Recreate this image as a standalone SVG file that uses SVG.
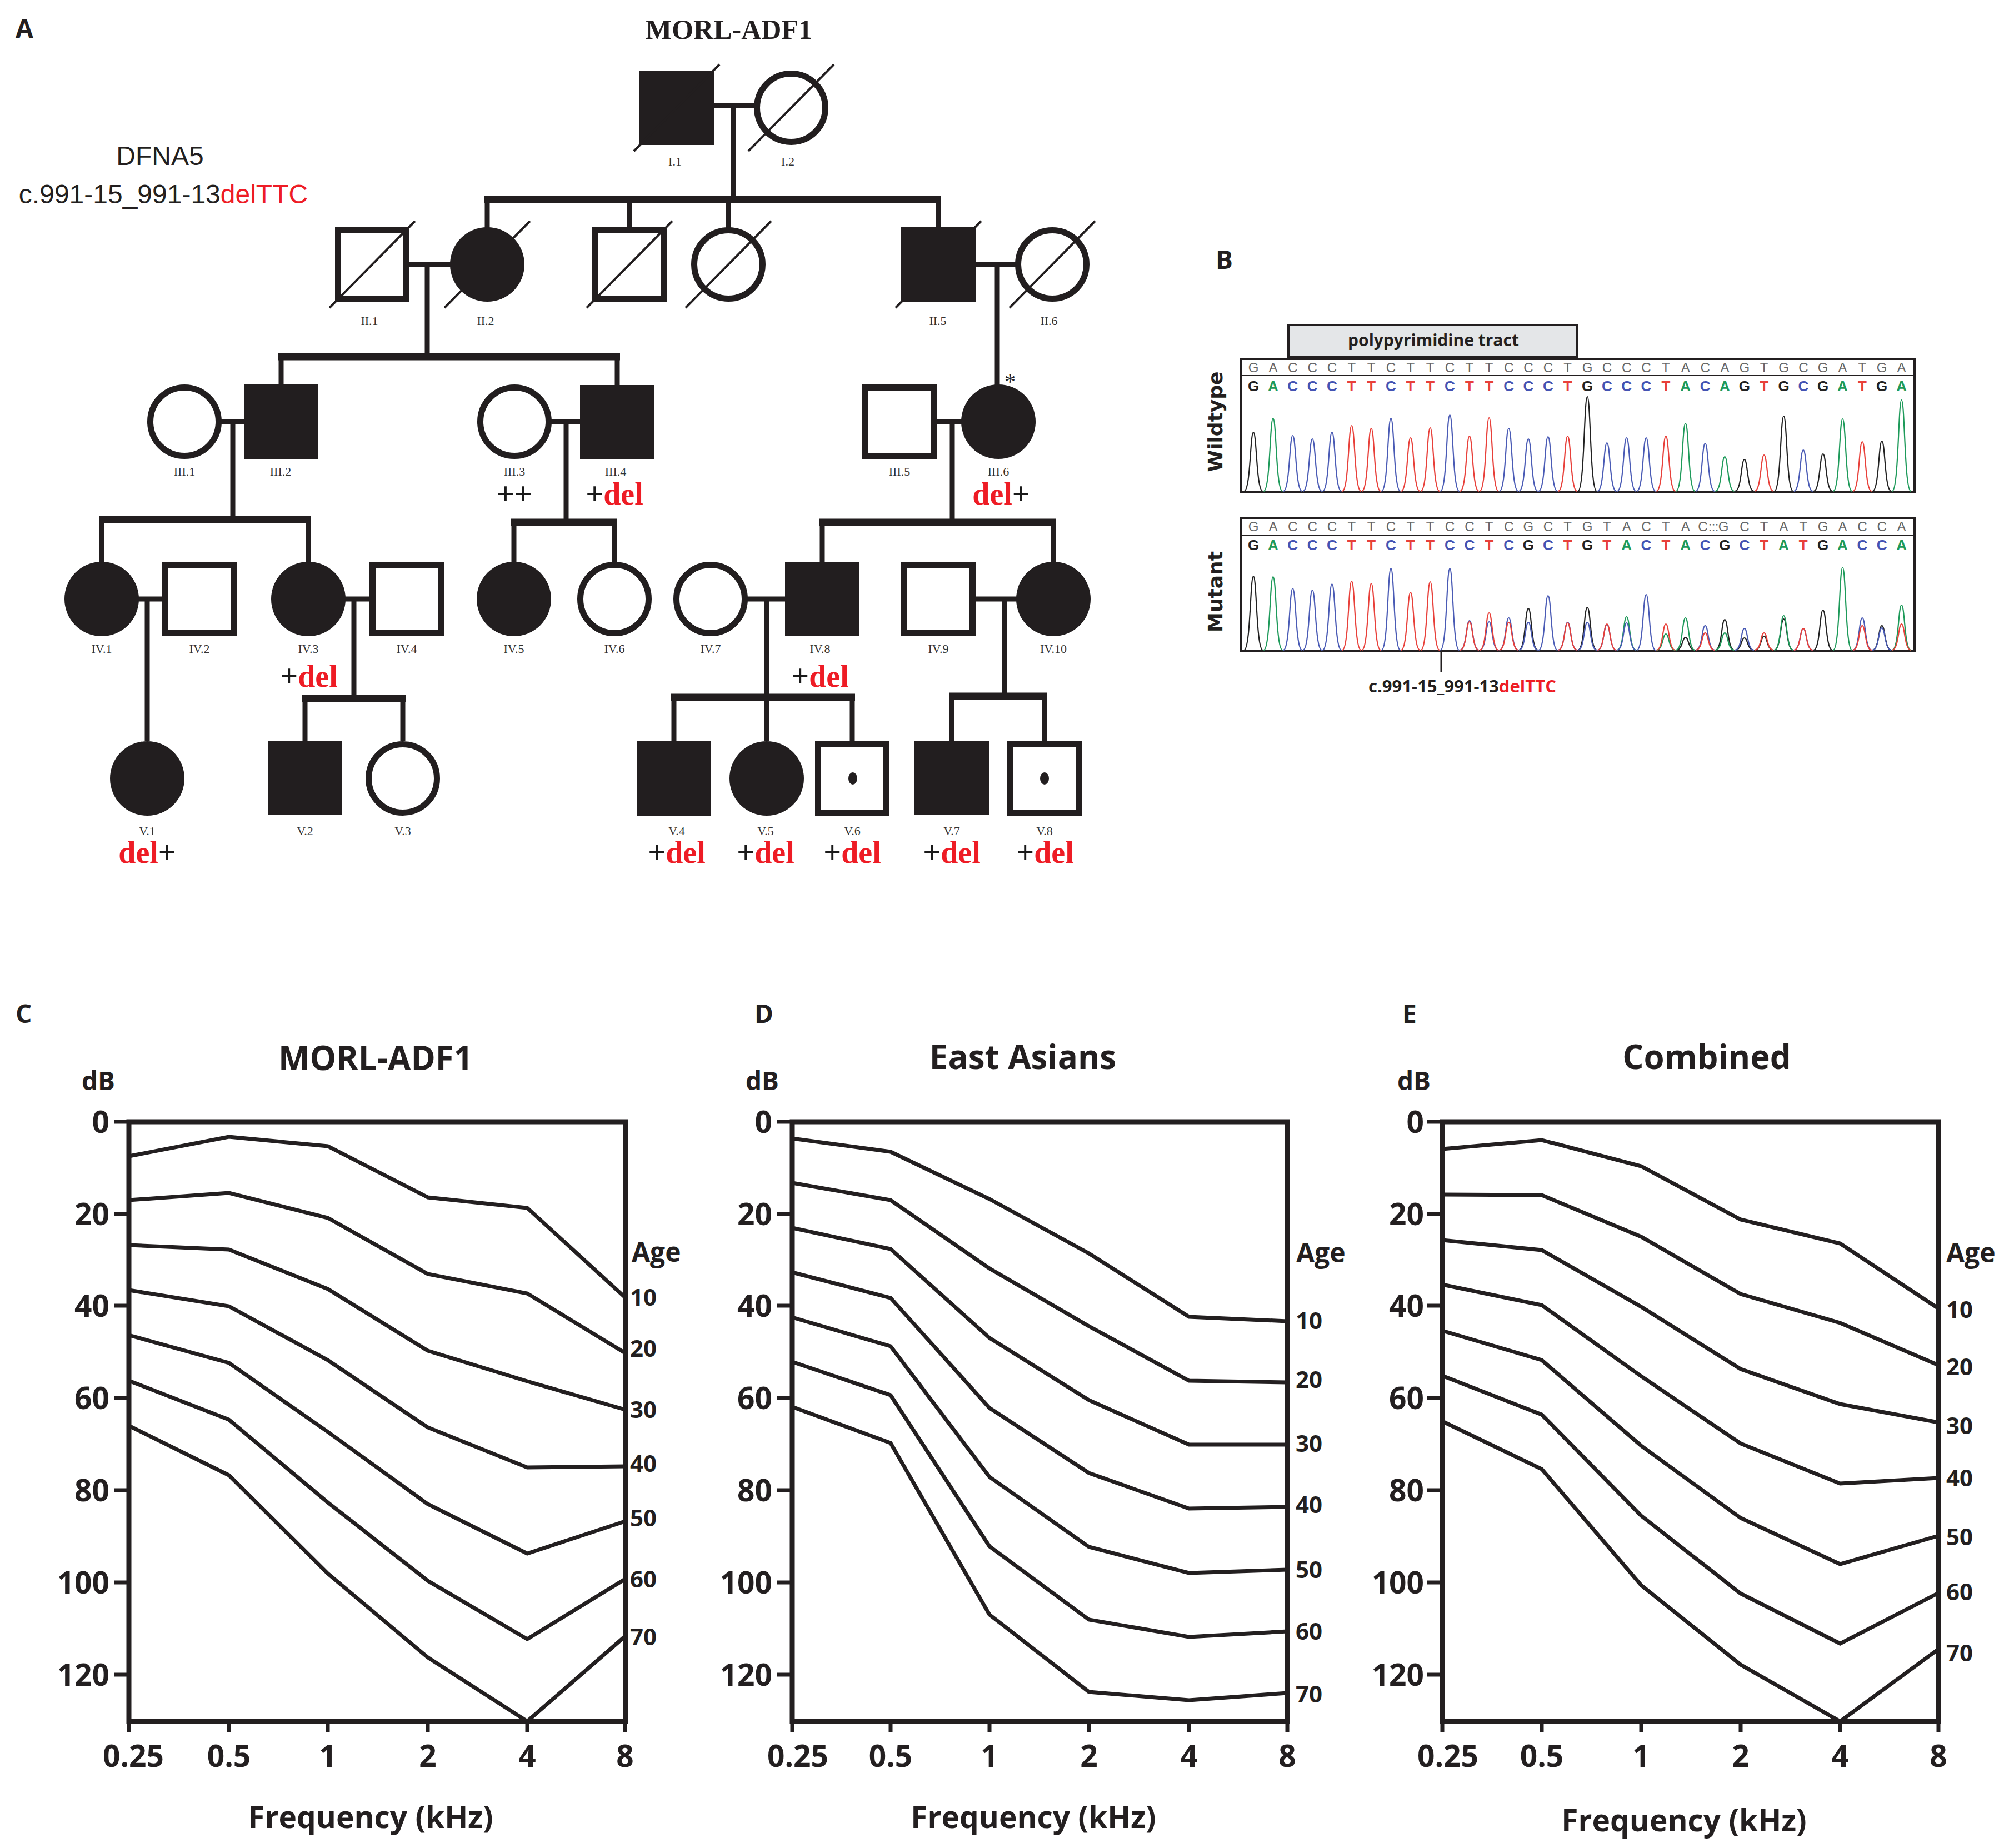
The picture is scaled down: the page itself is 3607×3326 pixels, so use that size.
<svg xmlns="http://www.w3.org/2000/svg" width="3607" height="3326" viewBox="0 0 3607 3326">
<style>
.bg{fill:#fff}
.lbl{font-family:"Liberation Serif",serif;font-size:22px;fill:#333;text-anchor:middle}
.gt{font-family:"Liberation Serif",serif;font-weight:bold;font-size:56px;fill:#1a1a1a;text-anchor:middle}
.red{fill:#ee1c25}
.fil{fill:#221e1f}
.opn{fill:#fff;stroke:#221e1f;stroke-width:11}
.sl{stroke:#221e1f;stroke-width:4}
.con line{stroke:#221e1f;stroke-width:9}
.con line.sib{stroke-width:13}
.pl{font-family:"Open Sans","Liberation Sans",sans-serif;font-weight:bold;font-size:46px;fill:#231f20}
.hdr{font-family:"Liberation Sans",sans-serif;font-size:48px;fill:#231f20;text-anchor:middle}
.ax{font-family:"Open Sans","Liberation Sans",sans-serif;font-weight:bold;fill:#231f20}
.yl{font-size:55px;text-anchor:end}
.xl{font-size:55px;text-anchor:middle}
.ttl{font-size:60px;text-anchor:middle}
.ag{font-size:42px}
.db{font-size:46px;text-anchor:middle}
.box{fill:none;stroke:#231f20;stroke-width:9}
.tk{stroke:#231f20;stroke-width:7}
.crv{fill:none;stroke:#231f20;stroke-width:7;stroke-linejoin:miter}
.seq1{font-family:"Liberation Sans",sans-serif;font-size:24px;fill:#666;text-anchor:middle}
.seq2{font-family:"Liberation Sans",sans-serif;font-weight:bold;font-size:26px;text-anchor:middle}
.cG{fill:#222}.cA{fill:#1e9a5a}.cC{fill:#4453b3}.cT{fill:#e8403a}
.tr{fill:none;stroke-width:2.2}
.tG{stroke:#222}.tA{stroke:#1e9a5a}.tC{stroke:#4a5bb5}.tT{stroke:#e8403a}
.cf{fill:#fff;stroke:#231f20;stroke-width:4}
.rot{font-family:"DejaVu Sans",sans-serif;font-weight:bold;font-size:36px;fill:#231f20;text-anchor:middle}
</style>
<rect class="bg" x="0" y="0" width="3607" height="3326"/>

<!-- Panel A -->
<text class="pl" x="28" y="68">A</text>
<text x="1312" y="70" font-family="Liberation Serif,serif" font-weight="bold" font-size="50" fill="#231f20" text-anchor="middle">MORL-ADF1</text>
<text class="hdr" x="288" y="297">DFNA5</text>
<text class="hdr" x="294" y="366">c.991-15_991-13<tspan class="red">delTTC</tspan></text>

<g id="connectors" class="con">
<line x1="1285" y1="190" x2="1360" y2="190"/>
<line x1="1320" y1="190" x2="1320" y2="359"/>
<line class="sib" x1="872" y1="359" x2="1694" y2="359"/>
<line x1="877" y1="359" x2="877" y2="410"/>
<line x1="1133" y1="359" x2="1133" y2="410"/>
<line x1="1311" y1="359" x2="1311" y2="410"/>
<line x1="1689" y1="359" x2="1689" y2="410"/>
<line x1="731" y1="476" x2="812" y2="476"/>
<line x1="769" y1="476" x2="769" y2="642"/>
<line class="sib" x1="501" y1="642" x2="1116" y2="642"/>
<line x1="506" y1="642" x2="506" y2="693"/>
<line x1="1111" y1="642" x2="1111" y2="693"/>
<line x1="1754" y1="476" x2="1832" y2="476"/>
<line x1="1795" y1="476" x2="1795" y2="693"/>
<line x1="393" y1="759" x2="442" y2="759"/>
<line x1="419" y1="759" x2="419" y2="935"/>
<line class="sib" x1="178" y1="935" x2="560" y2="935"/>
<line x1="183" y1="935" x2="183" y2="1012"/>
<line x1="555" y1="935" x2="555" y2="1012"/>
<line x1="986" y1="759" x2="1046" y2="759"/>
<line x1="1019" y1="759" x2="1019" y2="940"/>
<line class="sib" x1="920" y1="940" x2="1111" y2="940"/>
<line x1="925" y1="940" x2="925" y2="1012"/>
<line x1="1106" y1="940" x2="1106" y2="1012"/>
<line x1="1678" y1="759" x2="1732" y2="759"/>
<line x1="1714" y1="759" x2="1714" y2="940"/>
<line class="sib" x1="1475" y1="940" x2="1901" y2="940"/>
<line x1="1480" y1="940" x2="1480" y2="1012"/>
<line x1="1896" y1="940" x2="1896" y2="1012"/>
<line x1="248" y1="1078" x2="300" y2="1078"/>
<line x1="265" y1="1078" x2="265" y2="1334"/>
<line x1="620" y1="1078" x2="672" y2="1078"/>
<line x1="637" y1="1078" x2="637" y2="1257"/>
<line class="sib" x1="544" y1="1257" x2="730" y2="1257"/>
<line x1="549" y1="1257" x2="549" y2="1334"/>
<line x1="725" y1="1257" x2="725" y2="1334"/>
<line x1="1342" y1="1078" x2="1414" y2="1078"/>
<line x1="1380" y1="1078" x2="1380" y2="1334"/>
<line class="sib" x1="1208" y1="1255" x2="1539" y2="1255"/>
<line x1="1213" y1="1255" x2="1213" y2="1334"/>
<line x1="1534" y1="1255" x2="1534" y2="1334"/>
<line x1="1750" y1="1078" x2="1834" y2="1078"/>
<line x1="1808" y1="1078" x2="1808" y2="1253"/>
<line class="sib" x1="1708" y1="1253" x2="1885" y2="1253"/>
<line x1="1713" y1="1253" x2="1713" y2="1334"/>
<line x1="1880" y1="1253" x2="1880" y2="1334"/>
</g>

<g id="I.1"><rect class="fil" x="1151" y="127" width="134" height="134"/><line class="sl" x1="1141" y1="272" x2="1295" y2="116"/><text class="lbl" x="1215" y="298">I.1</text></g>
<g id="I.2"><circle class="opn" cx="1424" cy="194" r="61.5"/><line class="sl" x1="1347" y1="272" x2="1501" y2="116"/><text class="lbl" x="1418" y="298">I.2</text></g>
<g id="II.1"><rect class="opn" x="608.5" y="414.5" width="123" height="123"/><line class="sl" x1="593" y1="554" x2="747" y2="398"/><text class="lbl" x="665" y="585">II.1</text></g>
<g id="II.2"><circle class="fil" cx="877" cy="476" r="67"/><line class="sl" x1="800" y1="554" x2="954" y2="398"/><text class="lbl" x="874" y="585">II.2</text></g>
<g id="II.3"><rect class="opn" x="1071.5" y="414.5" width="123" height="123"/><line class="sl" x1="1056" y1="554" x2="1210" y2="398"/></g>
<g id="II.4"><circle class="opn" cx="1311" cy="476" r="61.5"/><line class="sl" x1="1234" y1="554" x2="1388" y2="398"/></g>
<g id="II.5"><rect class="fil" x="1622" y="409" width="134" height="134"/><line class="sl" x1="1612" y1="554" x2="1766" y2="398"/><text class="lbl" x="1688" y="585">II.5</text></g>
<g id="II.6"><circle class="opn" cx="1894" cy="476" r="61.5"/><line class="sl" x1="1817" y1="554" x2="1971" y2="398"/><text class="lbl" x="1888" y="585">II.6</text></g>

<g id="III.1"><circle class="opn" cx="332" cy="759" r="61.5"/><text class="lbl" x="332" y="856">III.1</text></g>
<g id="III.2"><rect class="fil" x="439" y="692" width="134" height="134"/><text class="lbl" x="505" y="856">III.2</text></g>
<g id="III.3"><circle class="opn" cx="926" cy="759" r="61.5"/><text class="lbl" x="926" y="856">III.3</text><text class="gt" x="926" y="908">++</text></g>
<g id="III.4"><rect class="fil" x="1044" y="693" width="134" height="134"/><text class="lbl" x="1108" y="856">III.4</text><text class="gt" x="1106" y="908">+<tspan class="red">del</tspan></text></g>
<g id="III.5"><rect class="opn" x="1557.5" y="697.5" width="123" height="123"/><text class="lbl" x="1619" y="856">III.5</text></g>
<g id="III.6"><circle class="fil" cx="1797" cy="759" r="67"/><text x="1818" y="700" font-family="Liberation Serif,serif" font-size="40" fill="#231f20" text-anchor="middle">*</text><text class="lbl" x="1797" y="856">III.6</text><text class="gt" x="1802" y="908"><tspan class="red">del</tspan>+</text></g>

<g id="IV.1"><circle class="fil" cx="183" cy="1078" r="67"/><text class="lbl" x="183" y="1175">IV.1</text></g>
<g id="IV.2"><rect class="opn" x="297.5" y="1016.5" width="123" height="123"/><text class="lbl" x="359" y="1175">IV.2</text></g>
<g id="IV.3"><circle class="fil" cx="555" cy="1078" r="67"/><text class="lbl" x="555" y="1175">IV.3</text><text class="gt" x="556" y="1236">+<tspan class="red">del</tspan></text></g>
<g id="IV.4"><rect class="opn" x="670.5" y="1016.5" width="123" height="123"/><text class="lbl" x="732" y="1175">IV.4</text></g>
<g id="IV.5"><circle class="fil" cx="925" cy="1078" r="67"/><text class="lbl" x="925" y="1175">IV.5</text></g>
<g id="IV.6"><circle class="opn" cx="1106" cy="1078" r="61.5"/><text class="lbl" x="1106" y="1175">IV.6</text></g>
<g id="IV.7"><circle class="opn" cx="1279" cy="1078" r="61.5"/><text class="lbl" x="1279" y="1175">IV.7</text></g>
<g id="IV.8"><rect class="fil" x="1413" y="1011" width="134" height="134"/><text class="lbl" x="1476" y="1175">IV.8</text><text class="gt" x="1476" y="1236">+<tspan class="red">del</tspan></text></g>
<g id="IV.9"><rect class="opn" x="1627.5" y="1016.5" width="123" height="123"/><text class="lbl" x="1689" y="1175">IV.9</text></g>
<g id="IV.10"><circle class="fil" cx="1896" cy="1078" r="67"/><text class="lbl" x="1896" y="1175">IV.10</text></g>

<g id="V.1"><circle class="fil" cx="265" cy="1401" r="67"/><text class="lbl" x="265" y="1503">V.1</text><text class="gt" x="265" y="1553"><tspan class="red">del</tspan>+</text></g>
<g id="V.2"><rect class="fil" x="482" y="1333" width="134" height="134"/><text class="lbl" x="549" y="1503">V.2</text></g>
<g id="V.3"><circle class="opn" cx="725" cy="1401" r="61.5"/><text class="lbl" x="725" y="1503">V.3</text></g>
<g id="V.4"><rect class="fil" x="1146" y="1334" width="134" height="134"/><text class="lbl" x="1218" y="1503">V.4</text><text class="gt" x="1218" y="1553">+<tspan class="red">del</tspan></text></g>
<g id="V.5"><circle class="fil" cx="1380" cy="1401" r="67"/><text class="lbl" x="1378" y="1503">V.5</text><text class="gt" x="1378" y="1553">+<tspan class="red">del</tspan></text></g>
<g id="V.6"><rect class="opn" x="1472.5" y="1339.5" width="123" height="123"/><ellipse class="fil" cx="1535" cy="1401" rx="8" ry="11"/><text class="lbl" x="1534" y="1503">V.6</text><text class="gt" x="1534" y="1553">+<tspan class="red">del</tspan></text></g>
<g id="V.7"><rect class="fil" x="1646" y="1333" width="134" height="134"/><text class="lbl" x="1713" y="1503">V.7</text><text class="gt" x="1713" y="1553">+<tspan class="red">del</tspan></text></g>
<g id="V.8"><rect class="opn" x="1818.5" y="1339.5" width="123" height="123"/><ellipse class="fil" cx="1880" cy="1401" rx="8" ry="11"/><text class="lbl" x="1880" y="1503">V.8</text><text class="gt" x="1881" y="1553">+<tspan class="red">del</tspan></text></g>

<!-- Panel B -->
<g id="panelB">
<text class="pl" x="2188" y="484">B</text>
<rect x="2319" y="585" width="520" height="57" fill="#e4e6e8" stroke="#231f20" stroke-width="4"/>
<text class="ax" x="2580" y="623" font-size="30" text-anchor="middle">polypyrimidine tract</text>

<rect class="cf" x="2233" y="646" width="1213" height="240"/>
<line x1="2233" y1="676" x2="3446" y2="676" stroke="#231f20" stroke-width="2"/>
<text class="rot" transform="translate(2200,759) rotate(-90)">Wildtype</text>
<text class="seq1" y="670" x="2256 2291.4 2326.7 2362.1 2397.4 2432.8 2468.1 2503.5 2538.8 2574.2 2609.5 2644.9 2680.2 2715.6 2750.9 2786.3 2821.6 2857 2892.3 2927.7 2963 2998.4 3033.7 3069.1 3104.4 3139.8 3175.1 3210.5 3245.8 3281.2 3316.5 3351.9 3387.2 3422.6">GACCCTTCTTCTTCCCTGCCCTACAGTGCGATGA</text>
<text class="seq2" y="704" x="2256 2291.4 2326.7 2362.1 2397.4 2432.8 2468.1 2503.5 2538.8 2574.2 2609.5 2644.9 2680.2 2715.6 2750.9 2786.3 2821.6 2857 2892.3 2927.7 2963 2998.4 3033.7 3069.1 3104.4 3139.8 3175.1 3210.5 3245.8 3281.2 3316.5 3351.9 3387.2 3422.6"><tspan class="cG">G</tspan><tspan class="cA">A</tspan><tspan class="cC">CCC</tspan><tspan class="cT">TT</tspan><tspan class="cC">C</tspan><tspan class="cT">TT</tspan><tspan class="cC">C</tspan><tspan class="cT">TT</tspan><tspan class="cC">CCC</tspan><tspan class="cT">T</tspan><tspan class="cG">G</tspan><tspan class="cC">CCC</tspan><tspan class="cT">T</tspan><tspan class="cA">A</tspan><tspan class="cC">C</tspan><tspan class="cA">A</tspan><tspan class="cG">G</tspan><tspan class="cT">T</tspan><tspan class="cG">G</tspan><tspan class="cC">C</tspan><tspan class="cG">G</tspan><tspan class="cA">A</tspan><tspan class="cT">T</tspan><tspan class="cG">G</tspan><tspan class="cA">A</tspan></text>
<path class="tr tG" d="M2239,884c12,0 11,-106 17,-106c6,0 5,106 17,106M2840,884c12,0 11,-170 17,-170c6,0 5,170 17,170M3122.8,884c12,0 11,-57 17,-57c6,0 5,57 17,57M3193.5,884c12,0 11,-135 17,-135c6,0 5,135 17,135M3264.2,884c12,0 11,-67 17,-67c6,0 5,67 17,67M3370.2,884c12,0 11,-90 17,-90c6,0 5,90 17,90"/>
<path class="tr tA" d="M2274.4,884c12,0 11,-131 17,-131c6,0 5,131 17,131M3016.7,884c12,0 11,-122 17,-122c6,0 5,122 17,122M3087.4,884c12,0 11,-62 17,-62c6,0 5,62 17,62M3299.5,884c12,0 11,-130 17,-130c6,0 5,130 17,130M3405.6,884c12,0 11,-164 17,-164c6,0 5,164 17,164"/>
<path class="tr tC" d="M2309.7,884c12,0 11,-100 17,-100c6,0 5,100 17,100M2345.1,884c12,0 11,-94 17,-94c6,0 5,94 17,94M2380.4,884c12,0 11,-106 17,-106c6,0 5,106 17,106M2486.5,884c12,0 11,-131 17,-131c6,0 5,131 17,131M2592.5,884c12,0 11,-137 17,-137c6,0 5,137 17,137M2698.6,884c12,0 11,-113 17,-113c6,0 5,113 17,113M2733.9,884c12,0 11,-94 17,-94c6,0 5,94 17,94M2769.3,884c12,0 11,-98 17,-98c6,0 5,98 17,98M2875.3,884c12,0 11,-87 17,-87c6,0 5,87 17,87M2910.7,884c12,0 11,-96 17,-96c6,0 5,96 17,96M2946,884c12,0 11,-96 17,-96c6,0 5,96 17,96M3052.1,884c12,0 11,-86 17,-86c6,0 5,86 17,86M3228.8,884c12,0 11,-74 17,-74c6,0 5,74 17,74"/>
<path class="tr tT" d="M2415.8,884c12,0 11,-118 17,-118c6,0 5,118 17,118M2451.1,884c12,0 11,-113 17,-113c6,0 5,113 17,113M2521.8,884c12,0 11,-96 17,-96c6,0 5,96 17,96M2557.2,884c12,0 11,-114 17,-114c6,0 5,114 17,114M2627.9,884c12,0 11,-99 17,-99c6,0 5,99 17,99M2663.2,884c12,0 11,-132 17,-132c6,0 5,132 17,132M2804.6,884c12,0 11,-99 17,-99c6,0 5,99 17,99M2981.4,884c12,0 11,-99 17,-99c6,0 5,99 17,99M3158.1,884c12,0 11,-65 17,-65c6,0 5,65 17,65M3334.9,884c12,0 11,-89 17,-89c6,0 5,89 17,89"/>

<rect class="cf" x="2233" y="932" width="1213" height="240"/>
<line x1="2233" y1="963" x2="3446" y2="963" stroke="#231f20" stroke-width="2"/>
<text class="rot" transform="translate(2200,1065) rotate(-90)">Mutant</text>
<text class="seq1" y="956" x="2256 2291.4 2326.7 2362.1 2397.4 2432.8 2468.1 2503.5 2538.8 2574.2 2609.5 2644.9 2680.2 2715.6 2750.9 2786.3 2821.6 2857 2892.3 2927.7 2963 2998.4 3033.7 3065 3078 3084 3090 3102 3139.8 3175.1 3210.5 3245.8 3281.2 3316.5 3351.9 3387.2 3422.6">GACCCTTCTTCCTCGCTGTACTAC:::GCTATGACCA</text>
<text class="seq2" y="990" x="2256 2291.4 2326.7 2362.1 2397.4 2432.8 2468.1 2503.5 2538.8 2574.2 2609.5 2644.9 2680.2 2715.6 2750.9 2786.3 2821.6 2857 2892.3 2927.7 2963 2998.4 3033.7 3069.1 3104.4 3139.8 3175.1 3210.5 3245.8 3281.2 3316.5 3351.9 3387.2 3422.6"><tspan class="cG">G</tspan><tspan class="cA">A</tspan><tspan class="cC">CCC</tspan><tspan class="cT">TT</tspan><tspan class="cC">C</tspan><tspan class="cT">TT</tspan><tspan class="cC">CC</tspan><tspan class="cT">T</tspan><tspan class="cC">C</tspan><tspan class="cG">G</tspan><tspan class="cC">C</tspan><tspan class="cT">T</tspan><tspan class="cG">G</tspan><tspan class="cT">T</tspan><tspan class="cA">A</tspan><tspan class="cC">C</tspan><tspan class="cT">T</tspan><tspan class="cA">A</tspan><tspan class="cC">C</tspan><tspan class="cG">G</tspan><tspan class="cC">C</tspan><tspan class="cT">T</tspan><tspan class="cA">A</tspan><tspan class="cT">T</tspan><tspan class="cG">G</tspan><tspan class="cA">A</tspan><tspan class="cC">CC</tspan><tspan class="cA">A</tspan></text>
<path class="tr tG" d="M2239,1170c12,0 11,-133 17,-133c6,0 5,133 17,133M2733.9,1170c12,0 11,-75 17,-75c6,0 5,75 17,75M2840,1170c12,0 11,-77 17,-77c6,0 5,77 17,77M3016.7,1170c12,0 11,-23 17,-23c6,0 5,23 17,23M3087.4,1170c12,0 11,-55 17,-55c6,0 5,55 17,55M3122.8,1170c12,0 11,-22 17,-22c6,0 5,22 17,22M3158.1,1170c12,0 11,-25 17,-25c6,0 5,25 17,25M3193.5,1170c12,0 11,-56 17,-56c6,0 5,56 17,56M3264.2,1170c12,0 11,-72 17,-72c6,0 5,72 17,72M3370.2,1170c12,0 11,-44 17,-44c6,0 5,44 17,44"/>
<path class="tr tA" d="M2274.4,1170c12,0 11,-132 17,-132c6,0 5,132 17,132M2910.7,1170c12,0 11,-60 17,-60c6,0 5,60 17,60M2981.4,1170c12,0 11,-29 17,-29c6,0 5,29 17,29M3016.7,1170c12,0 11,-58 17,-58c6,0 5,58 17,58M3087.4,1170c12,0 11,-31 17,-31c6,0 5,31 17,31M3193.5,1170c12,0 11,-62 17,-62c6,0 5,62 17,62M3299.5,1170c12,0 11,-149 17,-149c6,0 5,149 17,149M3405.6,1170c12,0 11,-81 17,-81c6,0 5,81 17,81"/>
<path class="tr tC" d="M2309.7,1170c12,0 11,-111 17,-111c6,0 5,111 17,111M2345.1,1170c12,0 11,-108 17,-108c6,0 5,108 17,108M2380.4,1170c12,0 11,-119 17,-119c6,0 5,119 17,119M2486.5,1170c12,0 11,-147 17,-147c6,0 5,147 17,147M2592.5,1170c12,0 11,-147 17,-147c6,0 5,147 17,147M2627.9,1170c12,0 11,-53 17,-53c6,0 5,53 17,53M2663.2,1170c12,0 11,-51 17,-51c6,0 5,51 17,51M2698.6,1170c12,0 11,-58 17,-58c6,0 5,58 17,58M2733.9,1170c12,0 11,-50 17,-50c6,0 5,50 17,50M2769.3,1170c12,0 11,-98 17,-98c6,0 5,98 17,98M2804.6,1170c12,0 11,-50 17,-50c6,0 5,50 17,50M2840,1170c12,0 11,-50 17,-50c6,0 5,50 17,50M2875.3,1170c12,0 11,-46 17,-46c6,0 5,46 17,46M2910.7,1170c12,0 11,-49 17,-49c6,0 5,49 17,49M2946,1170c12,0 11,-100 17,-100c6,0 5,100 17,100M3052.1,1170c12,0 11,-44 17,-44c6,0 5,44 17,44M3122.8,1170c12,0 11,-39 17,-39c6,0 5,39 17,39M3228.8,1170c12,0 11,-39 17,-39c6,0 5,39 17,39M3334.9,1170c12,0 11,-58 17,-58c6,0 5,58 17,58M3370.2,1170c12,0 11,-40 17,-40c6,0 5,40 17,40"/>
<path class="tr tT" d="M2415.8,1170c12,0 11,-124 17,-124c6,0 5,124 17,124M2451.1,1170c12,0 11,-120 17,-120c6,0 5,120 17,120M2521.8,1170c12,0 11,-104 17,-104c6,0 5,104 17,104M2557.2,1170c12,0 11,-123 17,-123c6,0 5,123 17,123M2627.9,1170c12,0 11,-51 17,-51c6,0 5,51 17,51M2663.2,1170c12,0 11,-67 17,-67c6,0 5,67 17,67M2698.6,1170c12,0 11,-50 17,-50c6,0 5,50 17,50M2804.6,1170c12,0 11,-49 17,-49c6,0 5,49 17,49M2875.3,1170c12,0 11,-47 17,-47c6,0 5,47 17,47M2981.4,1170c12,0 11,-47 17,-47c6,0 5,47 17,47M3052.1,1170c12,0 11,-31 17,-31c6,0 5,31 17,31M3158.1,1170c12,0 11,-31 17,-31c6,0 5,31 17,31M3228.8,1170c12,0 11,-39 17,-39c6,0 5,39 17,39M3334.9,1170c12,0 11,-44 17,-44c6,0 5,44 17,44M3405.6,1170c12,0 11,-47 17,-47c6,0 5,47 17,47"/>
<line x1="2594" y1="1172" x2="2594" y2="1210" stroke="#231f20" stroke-width="3"/>
<text class="ax" x="2632" y="1246" font-size="31" text-anchor="middle">c.991-15_991-13<tspan class="red">delTTC</tspan></text>
</g>

<!-- Panel C -->
<g id="panelC" class="ax">
<text class="pl" x="28" y="1841">C</text>
<text class="ttl" x="676" y="1926">MORL-ADF1</text>
<text class="db" x="177" y="1962">dB</text>
<rect class="box" x="232" y="2019" width="894" height="1079"/>
<path class="tk" d="M205,2019H232M205,2185H232M205,2350H232M205,2516H232M205,2682H232M205,2848H232M205,3014H232M232,3098V3118M412,3098V3118M590,3098V3118M770,3098V3118M949,3098V3118M1125,3098V3118"/>
<text class="yl" x="197" y="2039">0</text><text class="yl" x="197" y="2205">20</text><text class="yl" x="197" y="2370">40</text><text class="yl" x="197" y="2536">60</text><text class="yl" x="197" y="2702">80</text><text class="yl" x="197" y="2868">100</text><text class="yl" x="197" y="3034">120</text>
<text class="xl" x="240" y="3180">0.25</text><text class="xl" x="412" y="3180">0.5</text><text class="xl" x="590" y="3180">1</text><text class="xl" x="770" y="3180">2</text><text class="xl" x="949" y="3180">4</text><text class="xl" x="1125" y="3180">8</text>
<text class="xl" x="667" y="3290">Frequency (kHz)</text>
<text x="1137" y="2271" font-size="48">Age</text>
<text class="ag" x="1134" y="2350">10</text><text class="ag" x="1134" y="2442">20</text><text class="ag" x="1134" y="2552">30</text><text class="ag" x="1134" y="2649">40</text><text class="ag" x="1134" y="2747">50</text><text class="ag" x="1134" y="2857">60</text><text class="ag" x="1134" y="2961">70</text>
<polyline class="crv" points="232,2081 412,2046 590,2063 770,2155 949,2174 1125,2335"/>
<polyline class="crv" points="232,2160 412,2147 590,2192 770,2293 949,2328 1125,2435"/>
<polyline class="crv" points="232,2241 412,2249 590,2320 770,2431 949,2486 1125,2537"/>
<polyline class="crv" points="232,2322 412,2351 590,2448 770,2569 949,2641 1125,2639"/>
<polyline class="crv" points="232,2403 412,2453 590,2577 770,2707 949,2796 1125,2738"/>
<polyline class="crv" points="232,2485 412,2555 590,2704 770,2845 949,2950 1125,2842"/>
<polyline class="crv" points="232,2566 412,2655 590,2832 770,2983 949,3098 1125,2945"/>
</g>

<!-- Panel D -->
<g id="panelD" class="ax">
<text class="pl" x="1358" y="1841">D</text>
<text class="ttl" x="1841" y="1924">East Asians</text>
<text class="db" x="1372" y="1962">dB</text>
<rect class="box" x="1426" y="2019" width="891" height="1079"/>
<path class="tk" d="M1399,2019H1426M1399,2185H1426M1399,2350H1426M1399,2516H1426M1399,2682H1426M1399,2848H1426M1399,3014H1426M1426,3098V3118M1603,3098V3118M1781,3098V3118M1960,3098V3118M2140,3098V3118M2317,3098V3118"/>
<text class="yl" x="1390" y="2039">0</text><text class="yl" x="1390" y="2205">20</text><text class="yl" x="1390" y="2370">40</text><text class="yl" x="1390" y="2536">60</text><text class="yl" x="1390" y="2702">80</text><text class="yl" x="1390" y="2868">100</text><text class="yl" x="1390" y="3034">120</text>
<text class="xl" x="1436" y="3180">0.25</text><text class="xl" x="1603" y="3180">0.5</text><text class="xl" x="1781" y="3180">1</text><text class="xl" x="1960" y="3180">2</text><text class="xl" x="2140" y="3180">4</text><text class="xl" x="2317" y="3180">8</text>
<text class="xl" x="1860" y="3290">Frequency (kHz)</text>
<text x="2333" y="2272" font-size="48">Age</text>
<text class="ag" x="2332" y="2392">10</text><text class="ag" x="2332" y="2498">20</text><text class="ag" x="2332" y="2613">30</text><text class="ag" x="2332" y="2723">40</text><text class="ag" x="2332" y="2840">50</text><text class="ag" x="2332" y="2951">60</text><text class="ag" x="2332" y="3064">70</text>
<polyline class="crv" points="1426,2049 1603,2073 1781,2158 1960,2256 2140,2370 2317,2378"/>
<polyline class="crv" points="1426,2129 1603,2160 1781,2283 1960,2387 2140,2485 2317,2488"/>
<polyline class="crv" points="1426,2210 1603,2248 1781,2408 1960,2520 2140,2600 2317,2600"/>
<polyline class="crv" points="1426,2290 1603,2336 1781,2534 1960,2651 2140,2715 2317,2712"/>
<polyline class="crv" points="1426,2371 1603,2423 1781,2658 1960,2784 2140,2831 2317,2825"/>
<polyline class="crv" points="1426,2451 1603,2511 1781,2783 1960,2915 2140,2946 2317,2936"/>
<polyline class="crv" points="1426,2532 1603,2597 1781,2906 1960,3045 2140,3060 2317,3047"/>
</g>

<!-- Panel E -->
<g id="panelE" class="ax">
<text class="pl" x="2524" y="1841">E</text>
<text class="ttl" x="3072" y="1924">Combined</text>
<text class="db" x="2545" y="1962">dB</text>
<rect class="box" x="2596" y="2019" width="893" height="1079"/>
<path class="tk" d="M2569,2019H2596M2569,2185H2596M2569,2350H2596M2569,2516H2596M2569,2682H2596M2569,2848H2596M2569,3014H2596M2596,3098V3118M2775,3098V3118M2954,3098V3118M3133,3098V3118M3312,3098V3118M3489,3098V3118"/>
<text class="yl" x="2563" y="2039">0</text><text class="yl" x="2563" y="2205">20</text><text class="yl" x="2563" y="2370">40</text><text class="yl" x="2563" y="2536">60</text><text class="yl" x="2563" y="2702">80</text><text class="yl" x="2563" y="2868">100</text><text class="yl" x="2563" y="3034">120</text>
<text class="xl" x="2606" y="3180">0.25</text><text class="xl" x="2775" y="3180">0.5</text><text class="xl" x="2954" y="3180">1</text><text class="xl" x="3133" y="3180">2</text><text class="xl" x="3312" y="3180">4</text><text class="xl" x="3489" y="3180">8</text>
<text class="xl" x="3031" y="3296">Frequency (kHz)</text>
<text x="3503" y="2272" font-size="48">Age</text>
<text class="ag" x="3503" y="2372">10</text><text class="ag" x="3503" y="2475">20</text><text class="ag" x="3503" y="2581">30</text><text class="ag" x="3503" y="2675">40</text><text class="ag" x="3503" y="2781">50</text><text class="ag" x="3503" y="2880">60</text><text class="ag" x="3503" y="2990">70</text>
<polyline class="crv" points="2596,2068 2775,2052 2954,2099 3133,2195 3312,2238 3489,2355"/>
<polyline class="crv" points="2596,2150 2775,2151 2954,2226 3133,2329 3312,2381 3489,2457"/>
<polyline class="crv" points="2596,2232 2775,2250 2954,2352 3133,2464 3312,2527 3489,2560"/>
<polyline class="crv" points="2596,2312 2775,2349 2954,2477 3133,2598 3312,2670 3489,2660"/>
<polyline class="crv" points="2596,2395 2775,2448 2954,2602 3133,2732 3312,2815 3489,2764"/>
<polyline class="crv" points="2596,2476 2775,2546 2954,2728 3133,2868 3312,2958 3489,2867"/>
<polyline class="crv" points="2596,2558 2775,2644 2954,2853 3133,2996 3312,3098 3489,2968"/>
</g>
</svg>
